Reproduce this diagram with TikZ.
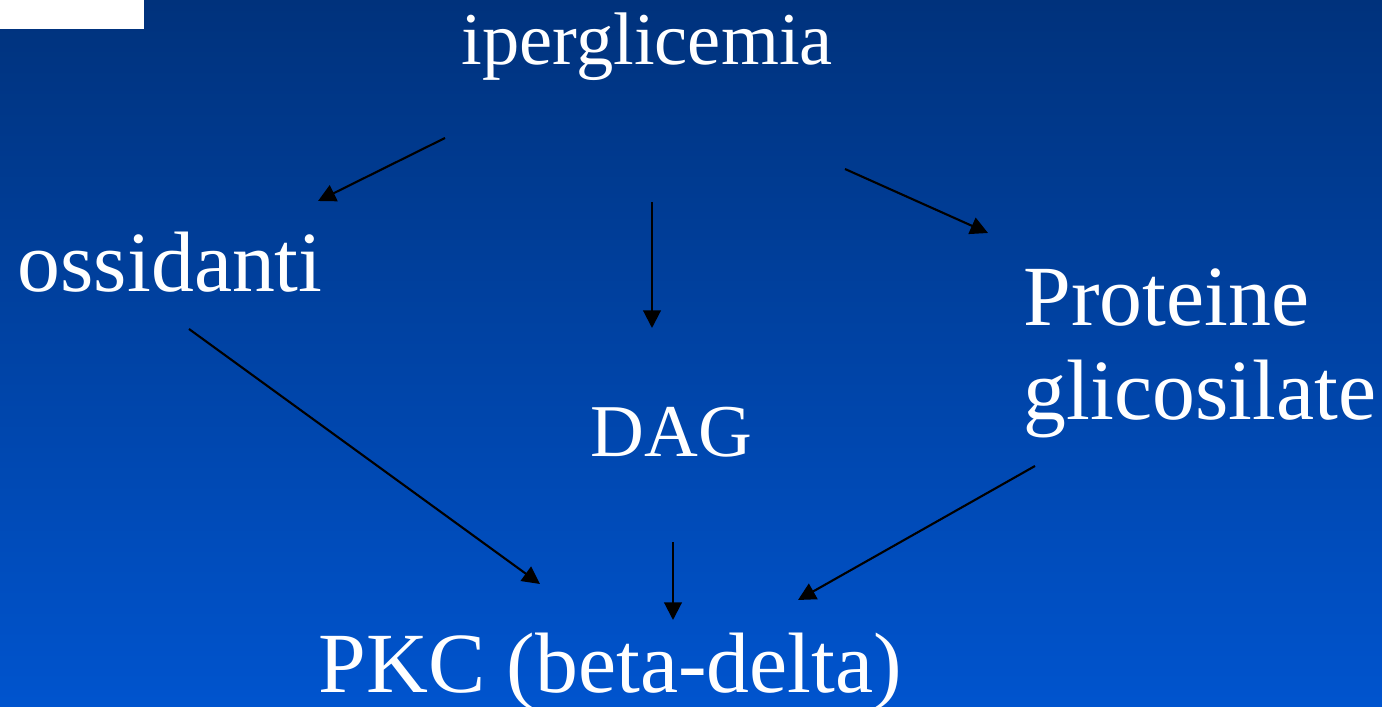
\documentclass[tikz,border=0pt]{standalone}
\usepackage{fontspec}
\setmainfont{Liberation Serif}
\usetikzlibrary{arrows.meta}
\definecolor{slidetop}{RGB}{0,50,124}
\definecolor{slidebot}{RGB}{0,84,206}
\tikzset{
  word/.style={text=white,inner sep=0pt,anchor=base west,font=\fontsize{24.4}{27}\selectfont},
  smallword/.style={word,font=\fontsize{21.2}{25}\selectfont},
  link/.style={-{Triangle[length=5pt,width=5pt]},line width=0.6pt,black}
}
\begin{document}
\begin{tikzpicture}
  \shade[top color=slidetop,bottom color=slidebot] (0,0) rectangle (13.82,7.07);
  \fill[white] (0,7.07) rectangle (1.44,6.78);
  \useasboundingbox (0,0) rectangle (13.82,7.07);
  % labels
  \node[smallword] (iper) at (4.61,6.42) {iperglicemia};
  \node[word] (ossi) at (0.17,4.15) {ossidanti};
  \node[word,align=left] (prot) at (10.23,2.87) {Proteine\\glicosilate};
  \node[smallword] (dag) at (5.90,2.50) {DAG};
  \node[word] (pkc) at (3.18,0.14) {PKC (beta-delta)};
  % arrow ends
  \coordinate (iperL) at (4.45,5.69);
  \coordinate (iperM) at (6.52,5.05);
  \coordinate (iperR) at (8.45,5.38);
  \coordinate (ossiIn) at (3.18,5.06);
  \coordinate (ossiOut) at (1.89,3.78);
  \coordinate (dagIn) at (6.52,3.79);
  \coordinate (dagOut) at (6.73,1.65);
  \coordinate (protIn) at (9.88,4.74);
  \coordinate (protOut) at (10.35,2.41);
  \coordinate (pkcL) at (5.40,1.23);
  \coordinate (pkcM) at (6.73,0.87);
  \coordinate (pkcR) at (7.98,1.07);
  \draw[link] (iperL) -- (ossiIn);
  \draw[link] (iperM) -- (dagIn);
  \draw[link] (iperR) -- (protIn);
  \draw[link] (ossiOut) -- (pkcL);
  \draw[link] (dagOut) -- (pkcM);
  \draw[link] (protOut) -- (pkcR);
\end{tikzpicture}
\end{document}
